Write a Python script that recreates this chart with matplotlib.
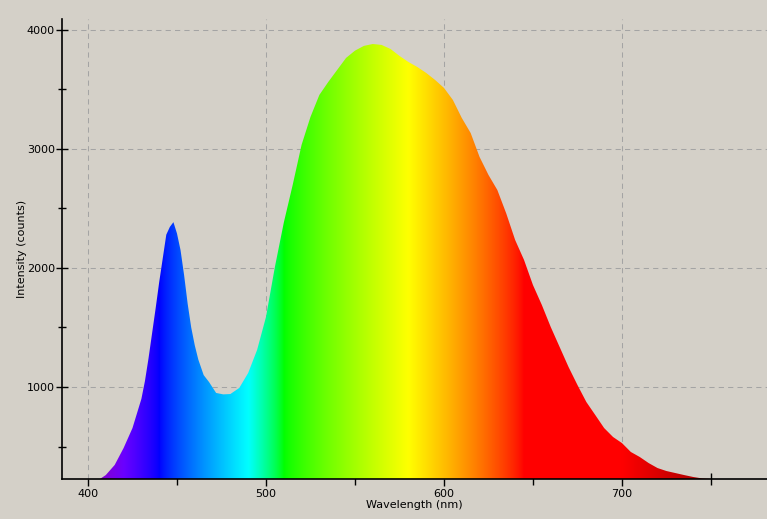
import numpy as np
import matplotlib
matplotlib.use('Agg')
import matplotlib.pyplot as plt
from matplotlib.ticker import MultipleLocator

# spectrum (nm, counts)
wavelength = [407, 410, 415, 420, 425, 430, 432, 434, 436, 438, 440, 442, 444, 446, 448,
              450, 452, 454, 456, 458, 460, 462, 465, 468, 472, 476, 480, 485, 490, 495,
              500, 505, 510, 515, 520, 525, 530, 535, 540, 545, 550, 555, 560, 565, 570,
              575, 580, 585, 590, 595, 600, 605, 610, 615, 620, 625, 630, 635, 640, 645,
              650, 655, 660, 665, 670, 675, 680, 685, 690, 695, 700, 705, 710, 715, 720,
              725, 730, 735, 740, 745, 750]
counts = [230, 260, 345, 487, 655, 900, 1050, 1240, 1450, 1660, 1880, 2080, 2280, 2345, 2385,
          2290, 2150, 1940, 1700, 1500, 1350, 1230, 1100, 1042, 950, 938, 941, 992, 1118, 1311,
          1588, 2008, 2380, 2697, 3034, 3269, 3454, 3563, 3664, 3765, 3826, 3866, 3882, 3874, 3840,
          3782, 3731, 3689, 3639, 3580, 3513, 3412, 3261, 3134, 2933, 2782, 2655, 2458, 2235, 2067,
          1857, 1689, 1504, 1336, 1168, 1017, 874, 765, 655, 580, 529, 454, 412, 361, 319,
          294, 277, 260, 244, 232, 227]

x_min, x_max = 385.4, 781.5
y_min, y_max = 227, 4092
bg = '#d4d0c8'


def wavelength_to_rgb(wl, gamma=0.8):
    # classic visible-spectrum approximation
    if wl < 440:
        r, g, b = -(wl - 440) / 60, 0.0, 1.0
    elif wl < 490:
        r, g, b = 0.0, (wl - 440) / 50, 1.0
    elif wl < 510:
        r, g, b = 0.0, 1.0, -(wl - 510) / 20
    elif wl < 580:
        r, g, b = (wl - 510) / 70, 1.0, 0.0
    elif wl < 645:
        r, g, b = 1.0, -(wl - 645) / 65, 0.0
    else:
        r, g, b = 1.0, 0.0, 0.0
    if wl < 420:
        f = 0.3 + 0.7 * (wl - 380) / 40
    elif wl > 700:
        f = 0.3 + 0.7 * (780 - wl) / 80
    else:
        f = 1.0
    return [(c * f) ** gamma if c > 0 else 0.0 for c in (r, g, b)]


fig = plt.figure(figsize=(7.67, 5.19), dpi=100, facecolor=bg)
ax = fig.add_axes([62 / 767, 40 / 519, 705 / 767, 460 / 519], facecolor=bg)

# gradient image clipped by the spectrum outline
grid_wl = np.linspace(x_min, x_max, 800)
img = np.array([[wavelength_to_rgb(w) for w in grid_wl]])
poly = ax.fill_between(wavelength, y_min, counts, color='none', lw=0)
im = ax.imshow(img, extent=[x_min, x_max, y_min, y_max], aspect='auto',
               interpolation='bilinear', zorder=2)
path = poly.get_paths()[0]
im.set_clip_path(path, transform=ax.transData)

ax.set_xlim(x_min, x_max)
ax.set_ylim(y_min, y_max)

ax.xaxis.set_major_locator(MultipleLocator(100))
ax.xaxis.set_minor_locator(MultipleLocator(50))
ax.yaxis.set_major_locator(MultipleLocator(1000))
ax.yaxis.set_minor_locator(MultipleLocator(500))

ax.grid(True, which='major', color='#a4a4a4', linestyle=(0, (5, 4)), linewidth=0.75)
ax.set_axisbelow(True)

for s in ['top', 'right']:
    ax.spines[s].set_visible(False)
for s in ['left', 'bottom']:
    ax.spines[s].set_linewidth(1.2)
    ax.spines[s].set_color('black')

ax.tick_params(axis='y', which='major', direction='inout', length=8, width=1, labelsize=8, pad=1)
ax.tick_params(axis='y', which='minor', direction='inout', length=6, width=1)
ax.tick_params(axis='x', which='major', direction='out', length=5, width=1, labelsize=8, pad=2)
ax.tick_params(axis='x', which='minor', direction='inout', length=8, width=1)

ax.set_xlabel('Wavelength (nm)', fontsize=8, labelpad=1)
ax.set_ylabel('Intensity (counts)', fontsize=8, labelpad=0)

fig.savefig('out.png', dpi=100, facecolor=bg)
